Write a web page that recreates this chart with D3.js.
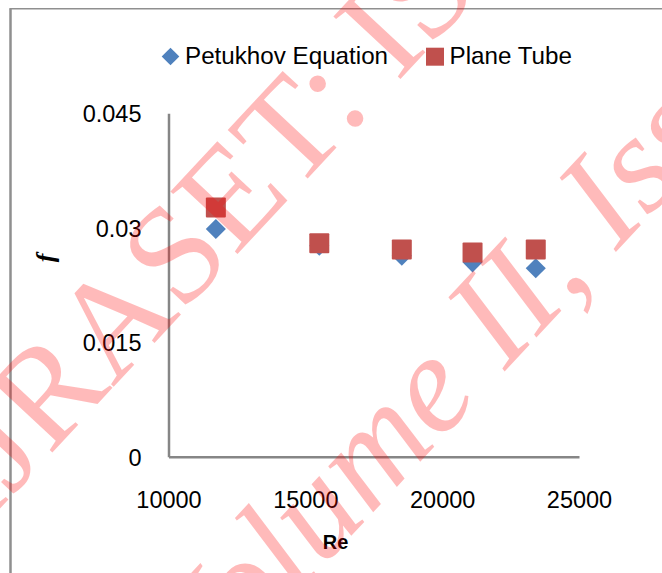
<!DOCTYPE html>
<html>
<head>
<meta charset="utf-8">
<script src="https://cdn.jsdelivr.net/npm/d3@7"></script>
<style>
  html, body { margin: 0; padding: 0; background: #fff; }
  svg { display: block; }
</style>
</head>
<body>
<svg id="chart" width="662" height="573"></svg>
<script>
// ---- data ----
const reValues = [11730, 15510, 18525, 21110, 23420];
const petukhov = [0.02984, 0.02765, 0.02634, 0.02547, 0.02469];
const planeTube = [0.03266, 0.02796, 0.02715, 0.02676, 0.02715];
const seriesNames = ["Petukhov Equation", "Plane Tube"];
const xTicks = [10000, 15000, 20000, 25000];
const yTicks = [0, 0.015, 0.03, 0.045];
const yTickLabels = ["0", "0.015", "0.03", "0.045"];
const watermarkLines = ["IJRASET: ISSN: 2321-9653", "Volume II, Issue IX, September 2014"];

const svg = d3.select("#chart");
const W = 662, H = 573;
const blue = "#4F81BD", red = "#C0504D", axisGray = "#868686";
const font = "'Liberation Sans', Arial, sans-serif";

// outer chart border (left & top visible)
svg.append("line").attr("x1", 10.5).attr("x2", 10.5).attr("y1", 8.5).attr("y2", H)
  .attr("stroke", "#8f8f8f").attr("stroke-width", 2.5);
svg.append("line").attr("x1", 9.5).attr("x2", W).attr("y1", 8.8).attr("y2", 8.8)
  .attr("stroke", "#8f8f8f").attr("stroke-width", 1.5);

const x = d3.scaleLinear().domain([10000, 25000]).range([168.5, 579]);
const y = d3.scaleLinear().domain([0, 0.045]).range([456.7, 113.3]);

// axes
const yAxis = d3.axisLeft(y).tickValues(yTicks).tickSize(0).tickPadding(27)
  .tickFormat((d, i) => yTickLabels[i]);
const gy = svg.append("g").attr("transform", `translate(${x(10000)},0)`).call(yAxis);
gy.select(".domain").attr("stroke", axisGray).attr("stroke-width", 2.5);
gy.selectAll("text").attr("font-family", font).attr("font-size", 23.5).attr("fill", "#000")
  .attr("dy", "0.36em");

const xAxis = d3.axisBottom(x).tickValues(xTicks).tickSize(0).tickPadding(35)
  .tickFormat(d3.format("d"));
const gx = svg.append("g").attr("transform", `translate(0,${y(0)})`).call(xAxis);
gx.select(".domain").attr("stroke", axisGray).attr("stroke-width", 2.5);
gx.selectAll("text").attr("font-family", font).attr("font-size", 23.5).attr("fill", "#000");

// axis titles
svg.append("text").attr("x", 335.5).attr("y", 549.3).attr("text-anchor", "middle")
  .attr("font-family", font).attr("font-weight", "bold").attr("font-size", 20).text("Re");
svg.append("text").attr("transform", "translate(45,258) rotate(-90)")
  .attr("text-anchor", "middle").attr("dominant-baseline", "central")
  .attr("font-family", "'Liberation Serif', 'Times New Roman', serif")
  .attr("font-style", "italic").attr("font-weight", "bold").attr("font-size", 26).text("f");

// markers
const dSide = 14.2;
svg.append("g").selectAll("rect").data(reValues).join("rect")
  .attr("x", -dSide / 2).attr("y", -dSide / 2).attr("width", dSide).attr("height", dSide)
  .attr("transform", (d, i) => `translate(${x(d)},${y(petukhov[i])}) rotate(45)`)
  .attr("fill", blue);
const sq = 20;
svg.append("g").selectAll("rect").data(reValues).join("rect")
  .attr("x", d => x(d) - sq / 2).attr("y", (d, i) => y(planeTube[i]) - sq / 2)
  .attr("width", sq).attr("height", sq).attr("rx", 1)
  .attr("fill", red);

// legend
const lg = svg.append("g");
const ld = 12.5;
lg.append("rect").attr("x", -ld / 2).attr("y", -ld / 2).attr("width", ld).attr("height", ld)
  .attr("transform", "translate(170.5,56.5) rotate(45)").attr("fill", blue);
lg.append("text").attr("x", 185).attr("y", 64).attr("font-family", font).attr("font-size", 24.2)
  .text(seriesNames[0]);
lg.append("rect").attr("x", 426).attr("y", 47.7).attr("width", 18).attr("height", 18).attr("fill", red);
lg.append("text").attr("x", 449.6).attr("y", 64).attr("font-family", font).attr("font-size", 24.2)
  .text(seriesNames[1]);

// watermark
const wm = svg.append("g").attr("fill", "#ff0000").attr("fill-opacity", 0.27)
  .attr("font-family", "'Liberation Serif', 'Times New Roman', serif").attr("font-size", 140);
wm.append("text").attr("transform", "translate(-20,530) rotate(-47)").text(watermarkLines[0]);
wm.append("text").attr("transform", "translate(200,698) rotate(-47)")
  .attr("font-style", "italic").text(watermarkLines[1]);
</script>
</body>
</html>
